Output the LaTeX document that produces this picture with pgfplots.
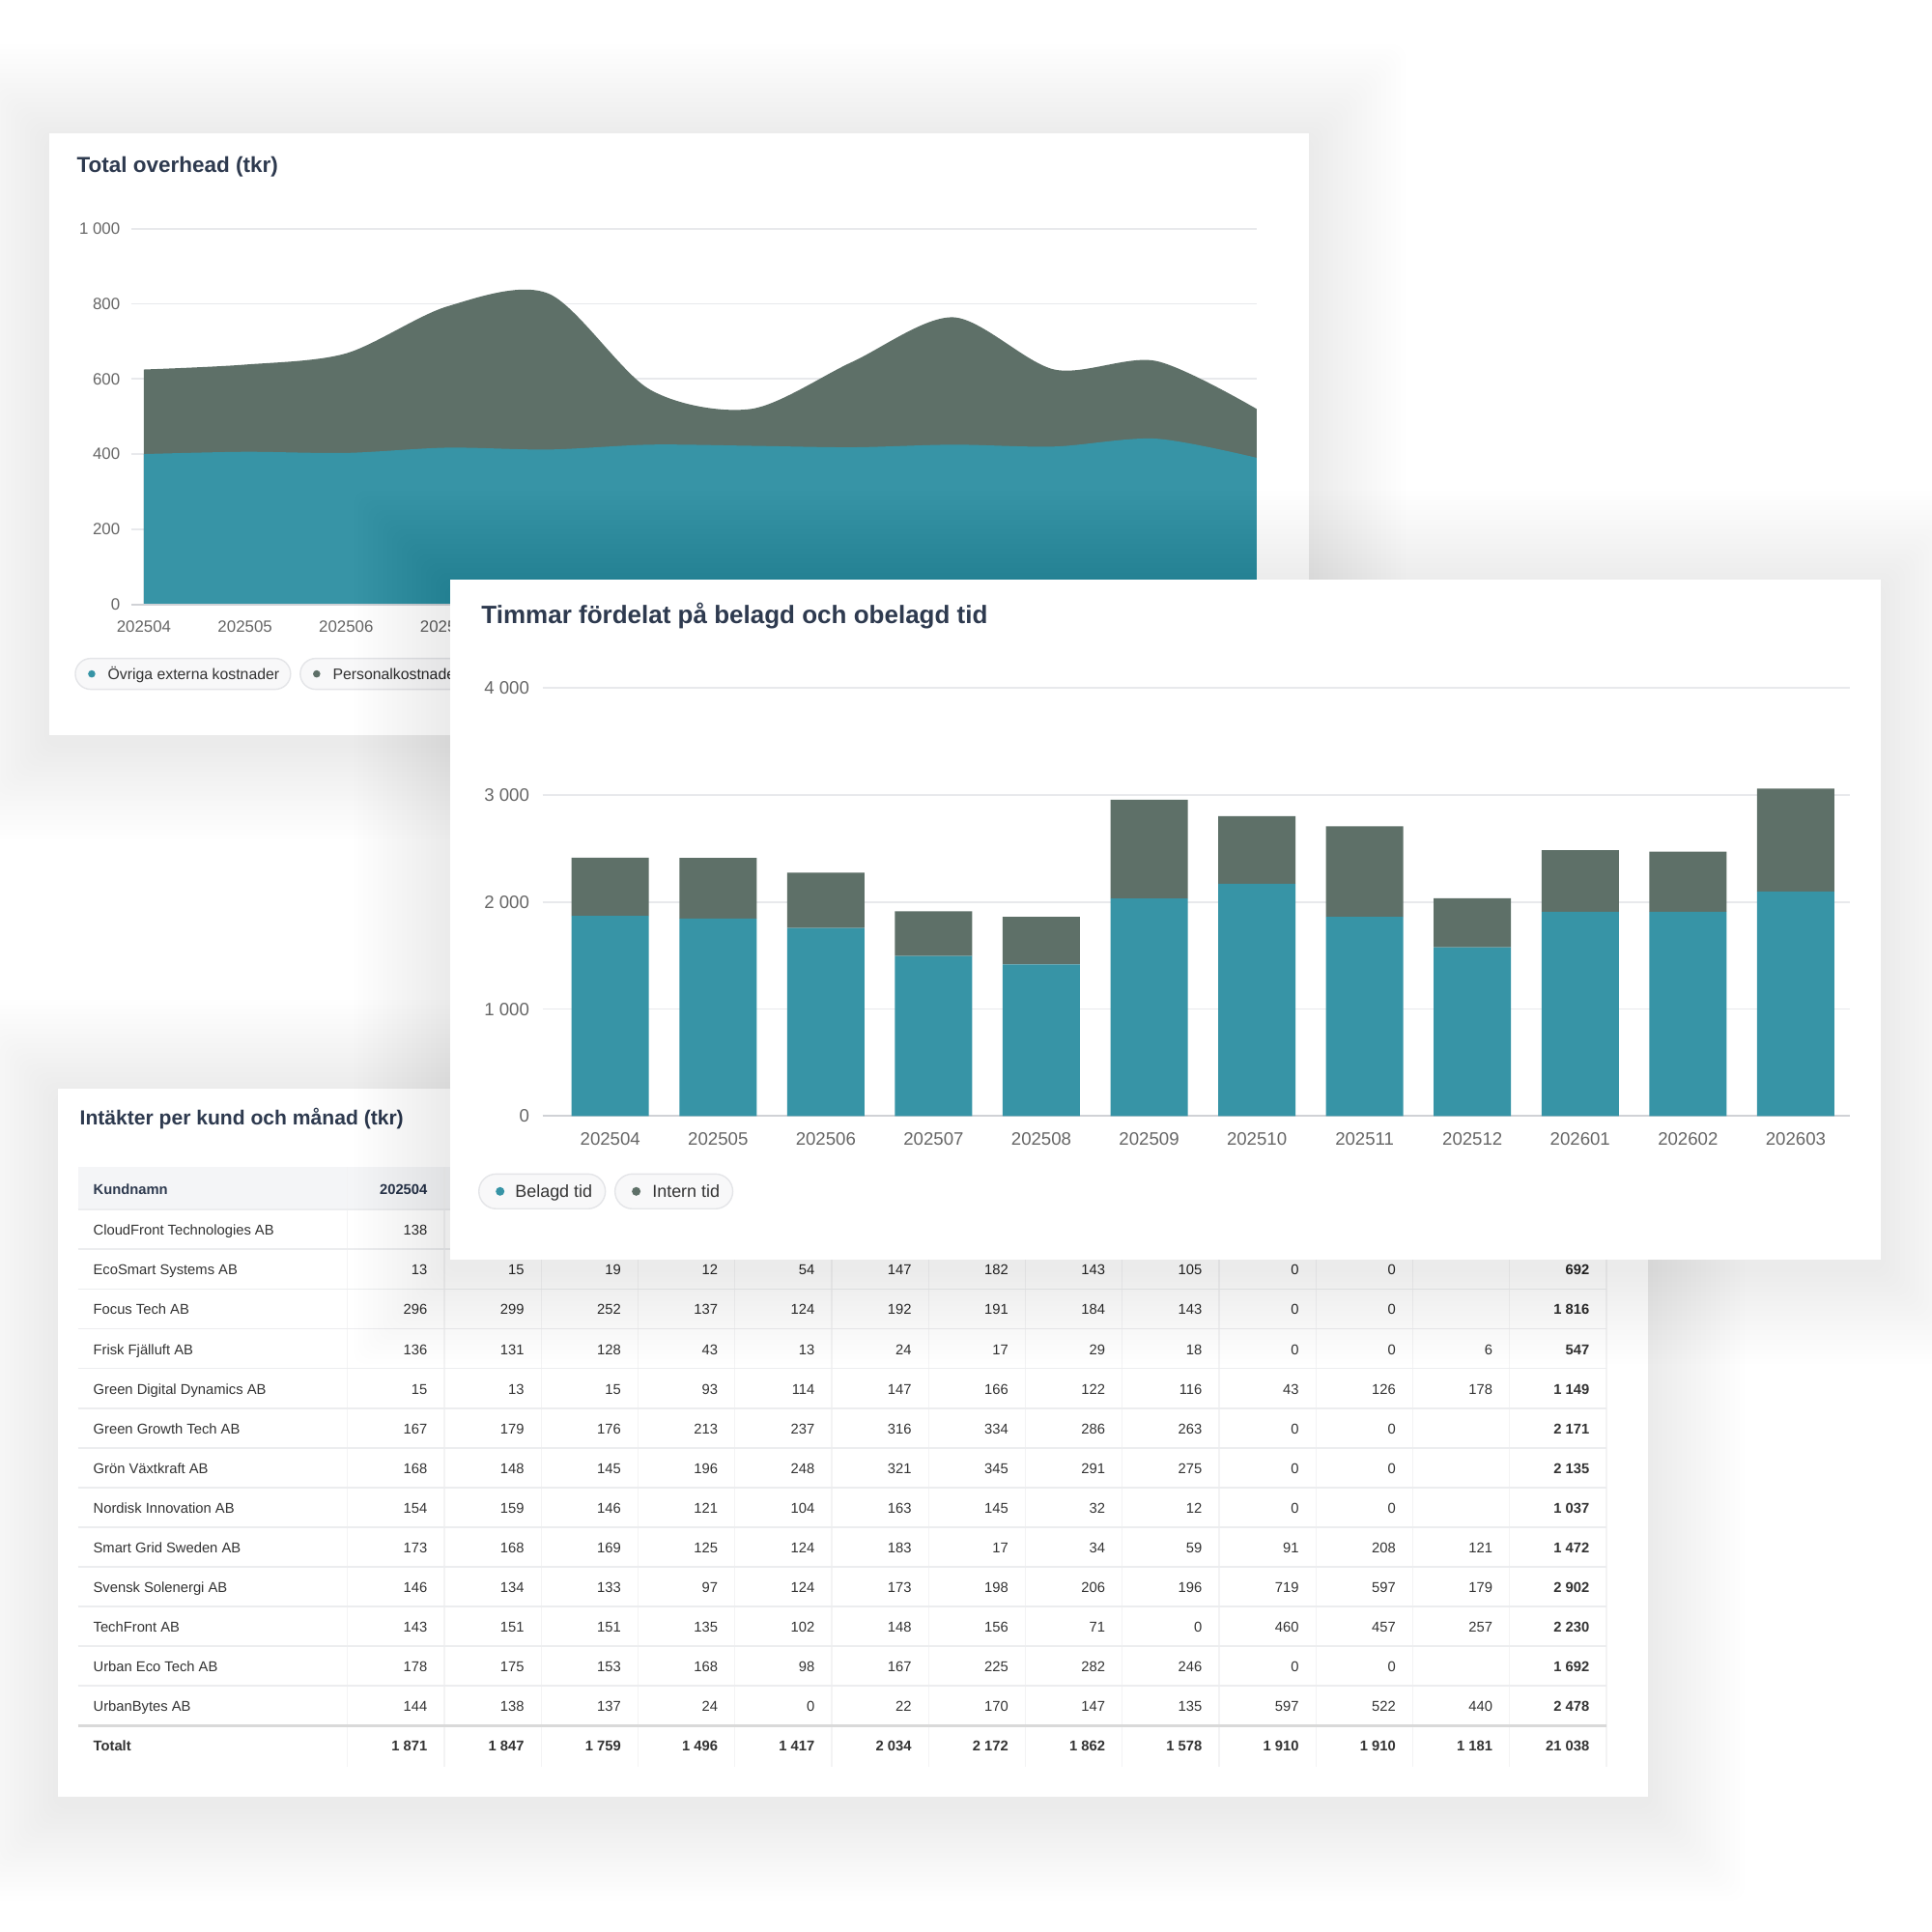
\documentclass[border=0pt]{standalone}
\usepackage{fontspec}
\setmainfont{Liberation Sans}
\usepackage{pgfplots}
\pgfplotsset{compat=1.18}

\definecolor{cTeal}{HTML}{3794A6}
\definecolor{cGray}{HTML}{5E7068}
\definecolor{cTitle}{HTML}{2E3A4F}
\definecolor{cTick}{HTML}{666666}
\definecolor{cGrid}{HTML}{E8E9EC}
\definecolor{cZero}{HTML}{D0D2D6}
\definecolor{cText}{HTML}{333333}
\definecolor{cPill}{HTML}{F8F8F9}
\definecolor{cPillB}{HTML}{E4E5E8}
\definecolor{cHead}{HTML}{F4F5F7}
\definecolor{cRule}{HTML}{ECEDEF}
\definecolor{cVRule}{HTML}{F3F3F4}

\newcommand{\shadowbox}[4]{%
  \foreach \k in {1,...,20}{%
    \fill[black,opacity=0.0045,rounded corners=4pt] ({#1-\k*5},{#2-\k*5+8}) rectangle ({#3+\k*5},{#4+\k*5+8});
  }%
}
\newcommand{\tfont}{\fontsize{4.2}{5}\selectfont}
\newcommand{\trow}[4]{%
  \node[anchor=base west,font=\tfont,text=cText,inner sep=0pt] at (96,{#1+6}) {#2};
  \foreach \v [count=\c] in {#3} {%
    \node[anchor=base east,font=\tfont,text=cText,inner sep=0pt] at ({360+100.3*\c-17},{#1+6}) {\v};
  }%
  \node[anchor=base east,font=\tfont\bfseries,text=cText,inner sep=0pt] at ({360+100.3*13-17},{#1+6}) {#4};
}
\newcommand{\trowb}[4]{%
  \node[anchor=base west,font=\tfont\bfseries,text=cText,inner sep=0pt] at (96,{#1+6}) {#2};
  \foreach \v [count=\c] in {#3} {%
    \node[anchor=base east,font=\tfont\bfseries,text=cText,inner sep=0pt] at ({360+100.3*\c-17},{#1+6}) {\v};
  }%
  \node[anchor=base east,font=\tfont\bfseries,text=cText,inner sep=0pt] at ({360+100.3*13-17},{#1+6}) {#4};
}

\begin{document}
\begin{tikzpicture}
\useasboundingbox (0,0) rectangle (20,-20);
% ================= Panel 1 frame =================
\begin{scope}[x=0.01cm,y=-0.01cm]
  \fill[white] (0,0) rectangle (2000,2000);
  \shadowbox{51}{138}{1356}{761}
  \fill[white] (51,138) rectangle (1356,761);
  \node[anchor=base west,inner sep=0pt,font=\fontsize{6.4}{7}\selectfont\bfseries,text=cTitle] at (79,179) {Total overhead (tkr)};
  \draw[cPillB,fill=cPill,line width=0.4pt,rounded corners=1.6mm] (78,682) rectangle (301,714);
  \fill[cTeal] (95,698) circle (0.38mm);
  \node[anchor=base west,inner sep=0pt,font=\fontsize{4.5}{5}\selectfont,text=cText] at (111,703.6) {Övriga externa kostnader};
  \draw[cPillB,fill=cPill,line width=0.4pt,rounded corners=1.6mm] (311,682) rectangle (493,714);
  \fill[cGray] (328,698) circle (0.38mm);
  \node[anchor=base west,inner sep=0pt,font=\fontsize{4.5}{5}\selectfont,text=cText] at (344,703.6) {Personalkostnader};
  \coordinate (A1) at (136,626);
\end{scope}

\begin{axis}[
  at={(A1)}, anchor=south west, scale only axis,
  width=11.65cm, height=3.89cm,
  xmin=-0.124, xmax=11, ymin=0, ymax=1000,
  axis line style={draw=none},
  tick style={draw=none},
  ymajorgrids, grid style={cGrid, line width=0.5pt},
  ytick={0,200,400,600,800,1000},
  yticklabels={0,200,400,600,800,1 000},
  xtick={0,1,2,3},
  xticklabels={202504,202505,202506,202507},
  tick label style={font=\fontsize{4.8}{5}\selectfont, text=cTick, inner sep=0pt},
  yticklabel style={anchor=east, xshift=-0.11cm},
  xticklabel style={anchor=center, yshift=-0.23cm},
  clip=false,
]
\addplot[fill=cGray, draw=none, smooth] coordinates {
 (0,625) (1,638) (2,668) (3,793) (4,827) (5,572) (6,520) (7,645) (8,764) (9,625) (10,648) (11,520)
} \closedcycle;
\addplot[fill=cTeal, draw=none, smooth] coordinates {
 (0,400) (1,406) (2,403) (3,417) (4,412) (5,425) (6,422) (7,418) (8,425) (9,420) (10,441) (11,390)
} \closedcycle;
\draw[cZero, line width=0.6pt] (rel axis cs:0,0) -- (rel axis cs:1,0);
\end{axis}

% ================= Panel 3 (table) =================
\begin{scope}[x=0.01cm,y=-0.01cm]
  \shadowbox{60}{1128}{1707}{1861}
  \fill[white] (60,1128) rectangle (1707,1861);
  \node[anchor=base west,inner sep=0pt,font=\fontsize{6.0}{7}\selectfont\bfseries,text=cTitle] at (82,1165) {Intäkter per kund och månad (tkr)};
  \fill[cHead] (81,1209) rectangle (1664,1253);
  \foreach \k in {0,...,13} {\draw[cVRule,line width=0.4pt] ({360+100.3*\k},1209) -- ({360+100.3*\k},1830);}
  \foreach \i in {0,...,12} {\draw[cRule,line width=0.5pt] (81,{1253+41.1*\i}) -- (1664,{1253+41.1*\i});}
  \draw[black!15,line width=0.9pt] (81,1787.3) -- (1664,1787.3);
  % header (columns 202505 and later are covered by the bar panel)
  \node[anchor=base west,font=\tfont\bfseries,text=cTitle,inner sep=0pt] at (96,1237) {Kundnamn};
  \node[anchor=base east,font=\tfont\bfseries,text=cTitle,inner sep=0pt] at ({360+100.3-17},1237) {202504};
  \node[anchor=base west,font=\tfont,text=cText,inner sep=0pt] at (96,1279.5) {CloudFront Technologies AB};
  \node[anchor=base east,font=\tfont,text=cText,inner sep=0pt] at ({360+100.3-17},1279.5) {138};
  \trow{1314.6}{EcoSmart Systems AB}{13,15,19,12,54,147,182,143,105,0,0,{}}{692}
  \trow{1355.7}{Focus Tech AB}{296,299,252,137,124,192,191,184,143,0,0,{}}{1 816}
  \trow{1396.8}{Frisk Fjälluft AB}{136,131,128,43,13,24,17,29,18,0,0,6}{547}
  \trow{1437.9}{Green Digital Dynamics AB}{15,13,15,93,114,147,166,122,116,43,126,178}{1 149}
  \trow{1479.0}{Green Growth Tech AB}{167,179,176,213,237,316,334,286,263,0,0,{}}{2 171}
  \trow{1520.1}{Grön Växtkraft AB}{168,148,145,196,248,321,345,291,275,0,0,{}}{2 135}
  \trow{1561.2}{Nordisk Innovation AB}{154,159,146,121,104,163,145,32,12,0,0,{}}{1 037}
  \trow{1602.3}{Smart Grid Sweden AB}{173,168,169,125,124,183,17,34,59,91,208,121}{1 472}
  \trow{1643.4}{Svensk Solenergi AB}{146,134,133,97,124,173,198,206,196,719,597,179}{2 902}
  \trow{1684.5}{TechFront AB}{143,151,151,135,102,148,156,71,0,460,457,257}{2 230}
  \trow{1725.6}{Urban Eco Tech AB}{178,175,153,168,98,167,225,282,246,0,0,{}}{1 692}
  \trow{1766.7}{UrbanBytes AB}{144,138,137,24,0,22,170,147,135,597,522,440}{2 478}
  \trowb{1808}{Totalt}{{1 871},{1 847},{1 759},{1 496},{1 417},{2 034},{2 172},{1 862},{1 578},{1 910},{1 910},{1 181}}{21 038}
\end{scope}

% ================= Panel 2 (bars) =================
\begin{scope}[x=0.01cm,y=-0.01cm]
  \shadowbox{466}{600}{1948}{1305}
  \fill[white] (466,600) rectangle (1948,1305);
  \node[anchor=base west,inner sep=0pt,font=\fontsize{7.4}{8}\selectfont\bfseries,text=cTitle] at (498,646) {Timmar fördelat på belagd och obelagd tid};
  \draw[cPillB,fill=cPill,line width=0.4pt,rounded corners=1.8mm] (496,1216) rectangle (627,1252);
  \fill[cTeal] (518,1234) circle (0.45mm);
  \node[anchor=base west,inner sep=0pt,font=\fontsize{5.1}{6}\selectfont,text=cText] at (533,1240.4) {Belagd tid};
  \draw[cPillB,fill=cPill,line width=0.4pt,rounded corners=1.8mm] (637,1216) rectangle (759,1252);
  \fill[cGray] (659,1234) circle (0.45mm);
  \node[anchor=base west,inner sep=0pt,font=\fontsize{5.1}{6}\selectfont,text=cText] at (675,1240.4) {Intern tid};
  \coordinate (A2) at (562,1156);
\end{scope}

\begin{axis}[
  at={(A2)}, anchor=south west, scale only axis,
  width=13.53cm, height=4.43cm,
  xmin=-0.628, xmax=11.5, ymin=0, ymax=4000,
  ybar stacked, bar width=0.8cm,
  axis line style={draw=none},
  tick style={draw=none},
  ymajorgrids, grid style={cGrid, line width=0.5pt},
  ytick={0,1000,2000,3000,4000},
  yticklabels={0,1 000,2 000,3 000,4 000},
  xtick={0,...,11},
  xticklabels={202504,202505,202506,202507,202508,202509,202510,202511,202512,202601,202602,202603},
  tick label style={font=\fontsize{5.3}{6}\selectfont, text=cTick, inner sep=0pt},
  yticklabel style={anchor=east, xshift=-0.13cm},
  xticklabel style={anchor=center, yshift=-0.24cm},
  clip=false,
]
\addplot[fill=cTeal, draw=none] coordinates {
 (0,1871) (1,1847) (2,1759) (3,1496) (4,1417) (5,2034) (6,2172) (7,1862) (8,1578) (9,1910) (10,1910) (11,2100)
};
\addplot[fill=cGray, draw=none] coordinates {
 (0,544) (1,565) (2,517) (3,419) (4,444) (5,923) (6,632) (7,846) (8,457) (9,574) (10,561) (11,961)
};
\draw[cZero, line width=0.6pt] (rel axis cs:0,0) -- (rel axis cs:1,0);
\end{axis}
\end{tikzpicture}
\end{document}
